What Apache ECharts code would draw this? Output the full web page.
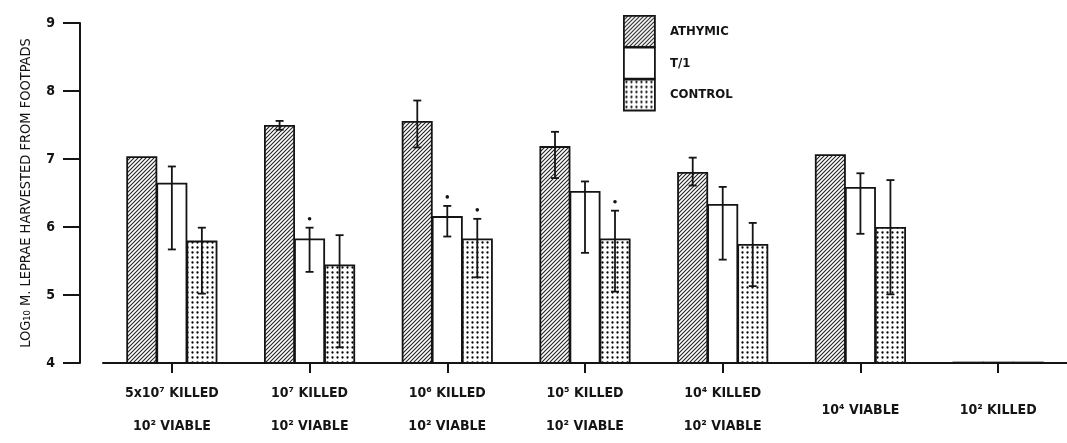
<!DOCTYPE html>
<html>
<head>
<meta charset="utf-8">
<script src="https://cdn.jsdelivr.net/npm/echarts@6/dist/echarts.min.js"></script>
<style>
html,body{margin:0;padding:0;background:#fff;}
#chart{width:1067px;height:443px;}
</style>
</head>
<body>
<div id="chart"></div>
<script>
// ---- data ----
const categories = [
  "5x10⁷ KILLED\n10² VIABLE",
  "10⁷ KILLED\n10² VIABLE",
  "10⁶ KILLED\n10² VIABLE",
  "10⁵ KILLED\n10² VIABLE",
  "10⁴ KILLED\n10² VIABLE",
  "10⁴ VIABLE",
  "10² KILLED"
];
const seriesNames = ["ATHYMIC", "T/1", "CONTROL"];
const athymic = [7.04, 7.50, 7.56, 7.19, 6.81, 7.07, 4.02];
const t1      = [6.65, 5.83, 6.16, 6.53, 6.34, 6.59, 4.02];
const control = [5.80, 5.45, 5.83, 5.83, 5.75, 6.00, 4.02];
const athymicErr = [null, [7.43, 7.56], [7.17, 7.86], [6.72, 7.40], [6.61, 7.02], null, null];
const t1Err      = [[5.67, 6.89], [5.34, 5.99], [5.86, 6.31], [5.62, 6.67], [5.52, 6.59], [5.90, 6.79], null];
const controlErr = [[5.02, 5.99], [4.23, 5.88], [5.26, 6.12], [5.05, 6.24], [5.13, 6.06], [5.01, 6.69], null];
const athymicSig = [0, 0, 0, 0, 0, 0, 0];
const t1Sig      = [0, 1, 1, 0, 0, 0, 0];
const controlSig = [0, 0, 1, 1, 0, 0, 0];
const yTicks = [4, 5, 6, 7, 8, 9];

// ---- styles ----
const INK = '#141414';
const FONT = '"DejaVu Sans Condensed", "Liberation Sans Narrow", sans-serif';
const BAR_W = 31;

function hatchPattern() {
  const c = document.createElement('canvas');
  c.width = 4; c.height = 4;
  const g = c.getContext('2d');
  g.fillStyle = '#fff'; g.fillRect(0, 0, 4, 4);
  g.strokeStyle = '#222'; g.lineWidth = 1.1;
  g.beginPath();
  g.moveTo(-1, 5); g.lineTo(5, -1);
  g.moveTo(-1, 1); g.lineTo(1, -1);
  g.moveTo(3, 5); g.lineTo(5, 3);
  g.stroke();
  return c;
}
function dotPattern() {
  const c = document.createElement('canvas');
  c.width = 5; c.height = 5;
  const g = c.getContext('2d');
  g.fillStyle = '#fff'; g.fillRect(0, 0, 5, 5);
  g.fillStyle = '#000';
  g.beginPath(); g.arc(2.5, 2.5, 1.15, 0, Math.PI * 2); g.fill();
  return c;
}

const fills = [
  { image: hatchPattern(), repeat: 'repeat' },
  '#ffffff',
  { image: dotPattern(), repeat: 'repeat' }
];

const values = [athymic, t1, control];
const errs = [athymicErr, t1Err, controlErr];
const sigs = [athymicSig, t1Sig, controlSig];

const errData = [];
errs.forEach((arr, s) => {
  arr.forEach((e, i) => {
    if (e) errData.push([i, e[0], e[1], s - 1, sigs[s][i]]);
  });
});

const barSeries = seriesNames.map((name, s) => ({
  name: name,
  type: 'bar',
  data: values[s],
  barWidth: BAR_W,
  barGap: '-3%',
  itemStyle: { color: fills[s], borderColor: INK, borderWidth: 1.8 },
  emphasis: { disabled: true },
  z: 2
}));

const errSeries = {
  type: 'custom',
  data: errData,
  encode: { x: 0, y: [1, 2] },
  z: 5,
  silent: true,
  renderItem: function (params, api) {
    const ci = api.value(0), lo = api.value(1), hi = api.value(2);
    const pos = api.value(3), sig = api.value(4);
    const pLo = api.coord([ci, lo]);
    const pHi = api.coord([ci, hi]);
    const x = pLo[0] + pos * (BAR_W - 1);
    const cap = 4;
    const st = { stroke: INK, lineWidth: 1.8 };
    const children = [
      { type: 'line', shape: { x1: x, y1: pLo[1], x2: x, y2: pHi[1] }, style: st },
      { type: 'line', shape: { x1: x - cap, y1: pLo[1], x2: x + cap, y2: pLo[1] }, style: st },
      { type: 'line', shape: { x1: x - cap, y1: pHi[1], x2: x + cap, y2: pHi[1] }, style: st }
    ];
    if (sig) {
      children.push({ type: 'circle', shape: { cx: x, cy: pHi[1] - 9, r: 1.8 }, style: { fill: INK } });
    }
    return { type: 'group', children: children };
  }
};

const chart = echarts.init(document.getElementById('chart'), null, { renderer: 'canvas' });
chart.setOption({
  animation: false,
  backgroundColor: '#ffffff',
  grid: { left: 103, top: 23, width: 967, height: 349, containLabel: false },
  legend: {
    orient: 'vertical',
    left: 623,
    top: 15,
    padding: 0,
    itemWidth: 31,
    itemHeight: 31,
    itemGap: -1,
    icon: 'rect',
    selectedMode: false,
    data: seriesNames,
    itemStyle: { borderColor: INK, borderWidth: 1.8 },
    textStyle: { fontFamily: FONT, fontSize: 13, fontWeight: 'bold', color: INK, padding: [0, 0, 0, 10] }
  },
  xAxis: {
    type: 'category',
    data: categories,
    axisLine: { show: true, onZero: false, lineStyle: { color: INK, width: 2 } },
    axisTick: { show: true, alignWithLabel: true, length: 10, lineStyle: { color: INK, width: 2 } },
    axisLabel: {
      interval: 0,
      margin: 47,
      verticalAlign: 'middle',
      lineHeight: 33,
      fontFamily: FONT,
      fontSize: 14,
      fontWeight: 'bold',
      color: INK
    },
    splitLine: { show: false }
  },
  yAxis: {
    type: 'value',
    min: yTicks[0],
    max: yTicks[yTicks.length - 1],
    interval: 1,
    offset: 23,
    name: 'LOG₁₀ M. LEPRAE HARVESTED FROM FOOTPADS',
    nameLocation: 'middle',
    nameGap: 46,
    nameRotate: 90,
    nameTextStyle: { fontFamily: FONT, fontSize: 14.5, color: INK },
    axisLine: { show: true, lineStyle: { color: INK, width: 2 } },
    axisTick: { show: true, length: 17, lineStyle: { color: INK, width: 2 } },
    axisLabel: { margin: 25, fontFamily: FONT, fontSize: 14, fontWeight: 'bold', color: INK },
    splitLine: { show: false }
  },
  series: barSeries.concat([errSeries])
});
</script>
</body>
</html>
